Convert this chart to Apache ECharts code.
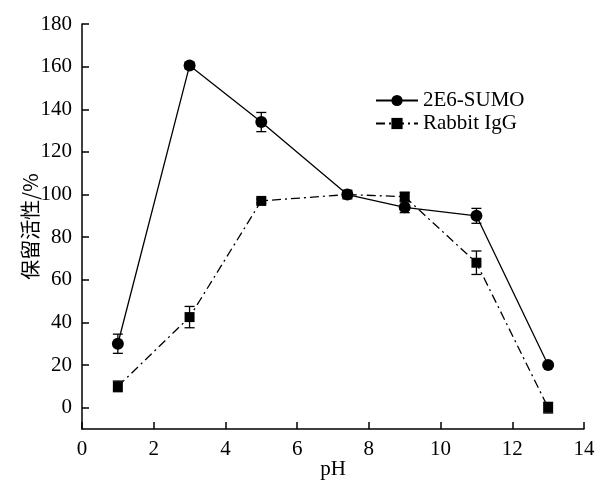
<!DOCTYPE html>
<html lang="zh-CN">
<head>
    <meta charset="UTF-8">
    <title>pH 稳定性</title>
    <script src="https://cdn.jsdelivr.net/npm/echarts@6.0.0/dist/echarts.min.js"></script>
    <style>
        html, body { margin: 0; padding: 0; background: #fff; }
        #chart { width: 603px; height: 482px; }
    </style>
</head>
<body>
    <div id="chart"></div>
    <script>
        // 数据
        const phValues = [1, 3, 5, 7.4, 9, 11, 13];
        const sumoValues = [30, 160.5, 134, 100, 94, 90, 20];
        const sumoErr = [4.5, 1.5, 4.5, 1, 2.5, 3.5, 1];
        const iggValues = [10, 42.5, 97, 100, 99, 68, 0];
        const iggErr = [2.5, 5, 1, 1, 2, 5.5, 2.5];
        const yTicks = [0, 20, 40, 60, 80, 100, 120, 140, 160, 180];

        const serif = 'Liberation Serif, Times New Roman, serif';

        function pairs(vals) {
            return phValues.map((x, i) => [x, vals[i]]);
        }
        function errData(vals, errs) {
            return phValues.map((x, i) => [x, vals[i], errs[i]]);
        }
        function errBar(params, api) {
            const x = api.value(0), y = api.value(1), e = api.value(2);
            const top = api.coord([x, y + e]);
            const bot = api.coord([x, y - e]);
            const cap = 5;
            const style = { stroke: '#000', lineWidth: 1.3 };
            return {
                type: 'group',
                children: [
                    { type: 'line', shape: { x1: top[0], y1: top[1], x2: bot[0], y2: bot[1] }, style },
                    { type: 'line', shape: { x1: top[0] - cap, y1: top[1], x2: top[0] + cap, y2: top[1] }, style },
                    { type: 'line', shape: { x1: bot[0] - cap, y1: bot[1], x2: bot[0] + cap, y2: bot[1] }, style }
                ]
            };
        }

        const chart = echarts.init(document.getElementById('chart'));
        chart.setOption({
            animation: false,
            backgroundColor: '#fff',
            grid: { left: 82, right: 19, top: 24, bottom: 53, outerBoundsMode: 'none', containLabel: false },
            legend: {
                left: 370, top: 85,
                orient: 'vertical',
                itemWidth: 42, itemHeight: 14, itemGap: 2,
                textStyle: { fontFamily: serif, fontSize: 21, color: '#000', lineHeight: 21 },
                data: ['2E6-SUMO', 'Rabbit IgG']
            },
            xAxis: {
                type: 'value', min: 0, max: 14, interval: 2,
                name: 'pH', nameLocation: 'middle', nameGap: 30, nameMoveOverlap: false,
                nameTextStyle: { fontFamily: serif, fontSize: 21, color: '#000' },
                axisLine: { onZero: false, lineStyle: { color: '#000', width: 1.5 } },
                axisTick: { inside: true, length: 7, lineStyle: { color: '#000', width: 1.5 } },
                axisLabel: { fontFamily: serif, fontSize: 21, color: '#000', margin: 10 },
                splitLine: { show: false }
            },
            yAxis: {
                type: 'value', min: -10, max: 180,
                name: '保留活性/%', nameLocation: 'middle', nameGap: 42, nameMoveOverlap: false,
                nameTextStyle: { fontFamily: 'Noto Sans CJK SC', fontSize: 20, color: '#000' },
                axisLine: { show: true, lineStyle: { color: '#000', width: 1.5 } },
                axisTick: { show: true, inside: true, length: 7, customValues: yTicks, lineStyle: { color: '#000', width: 1.5 } },
                axisLabel: { fontFamily: serif, fontSize: 21, color: '#000', margin: 10, customValues: yTicks },
                splitLine: { show: false }
            },
            series: [
                {
                    type: 'custom', renderItem: errBar, data: errData(sumoValues, sumoErr), z: 1, silent: true
                },
                {
                    type: 'custom', renderItem: errBar, data: errData(iggValues, iggErr), z: 1, silent: true
                },
                {
                    name: '2E6-SUMO', type: 'line', data: pairs(sumoValues), z: 3,
                    symbol: 'circle', symbolSize: 12,
                    itemStyle: { color: '#000' },
                    lineStyle: { color: '#000', width: 1.3 }
                },
                {
                    name: 'Rabbit IgG', type: 'line', data: pairs(iggValues), z: 2,
                    symbol: 'rect', symbolSize: 10,
                    itemStyle: { color: '#000' },
                    lineStyle: { color: '#000', width: 1.3, type: [9, 4, 2, 4] }
                }
            ]
        });
    </script>
</body>
</html>
